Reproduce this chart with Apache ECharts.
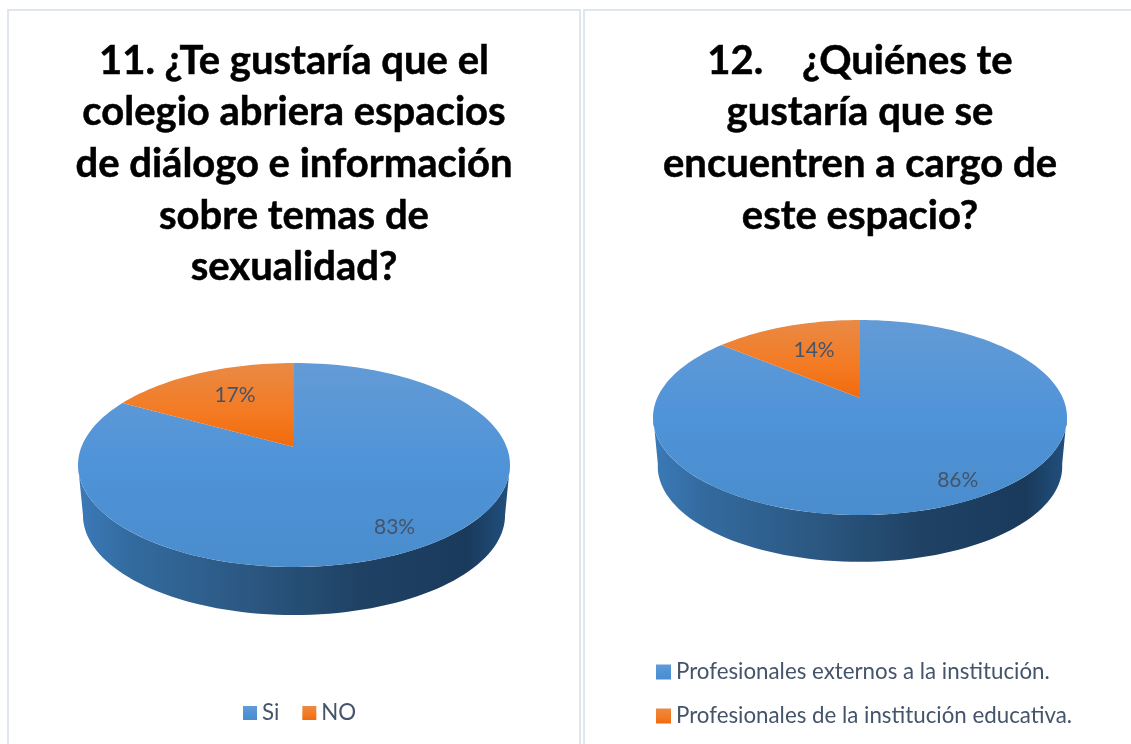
<!DOCTYPE html>
<html>
<head>
<meta charset="utf-8">
<style>
  html, body { margin: 0; padding: 0; background: #fff; }
  #chart { width: 1131px; height: 744px; }
</style>
<script src="https://cdn.jsdelivr.net/npm/echarts@6/dist/echarts.min.js"></script>
</head>
<body>
<div id="chart"></div>
<script>
const categories11 = ['Si', 'NO'];
const values11 = [83, 17];
const categories12 = ['Profesionales externos a la institución.', 'Profesionales de la institución educativa.'];
const values12 = [86, 14];
const title11 = '11. ¿Te gustaría que el\ncolegio abriera espacios\nde diálogo e información\nsobre temas de\nsexualidad?';
const title12 = '12.    ¿Quiénes te\ngustaría que se\nencuentren a cargo de\neste espacio?';

const FONT = 'Lato, "Open Sans", sans-serif';
const TEXT_COLOR = '#44546a';

// cy = centro real de la torta, above/below = distancia al borde de arriba/abajo
const layout11 = { cx: 294, cy: 447, halfW: 216, above: 84, below: 120, depth: 50.8, shrink: 0.977,
  labelR: [0.8, 0.65], labelShift: [[2, 3], [5, -1]] };
const layout12 = { cx: 860, cy: 398, halfW: 207, above: 78, below: 117, depth: 49.5, shrink: 0.977,
  labelR: [0.8, 0.66], labelShift: [[17, 3], [5, 2]] };

const grad = (x2, y2, stops) => new echarts.graphic.LinearGradient(0, 0, x2, y2,
  stops.map((c) => ({ offset: c[0], color: c[1] })));

const blueTop = () => grad(0, 1, [[0, '#639bd6'], [0.5, '#4f93d8'], [1, '#4a8dcd']]);
const orangeTop = () => grad(0, 1, [[0, '#e98a45'], [0.6, '#f47a22'], [1, '#f26a0c']]);
const blueWall = () => grad(1, 0, [[0, '#3b7ab8'], [0.12, '#336b9f'], [0.4, '#2b5781'], [0.65, '#1f4264'], [0.9, '#1a3a5c'], [1, '#22507e']]);
const orangeWall = () => grad(1, 0, [[0, '#b85a1c'], [1, '#7a3a10']]);

// perspectiva simple: circulo unitario -> elipse inclinada
const project = (lay, deg, r, scale, dy) => {
  const a = deg * Math.PI / 180;
  const u = Math.sin(a) * r;
  const v = -Math.cos(a) * r;
  const c = (lay.above - lay.below) / (lay.above + lay.below);
  const ay = lay.above * (1 - c);
  const kx = lay.halfW * Math.sqrt(1 - c * c);
  const den = 1 + c * v;
  return [lay.cx + scale * kx * u / den, lay.cy + scale * ay * v / den + dy];
};

const arc = (lay, from, to, scale, dy) => {
  const pts = [];
  const n = Math.max(2, Math.ceil((to - from) / 2));
  for (let i = 0; i <= n; i++) {
    pts.push(project(lay, from + (to - from) * i / n, 1, scale, dy));
  }
  return pts;
};

const makeSlices = (cats, vals, lay) => {
  const total = vals.reduce((a, b) => a + b, 0);
  let acc = 0;
  return cats.map((name, idx) => {
    const start = acc / total * 360;
    acc += vals[idx];
    const end = acc / total * 360;
    return {
      type: 'custom',
      name: name,
      coordinateSystem: 'none',
      silent: true,
      itemStyle: { color: idx === 0 ? blueTop() : orangeTop() },
      data: [vals[idx]],
      z: 2 + idx,
      renderItem: (params, api) => {
        const children = [];
        // pared lateral, solo la parte que da al frente
        const wallFrom = Math.max(start, 100);
        const wallTo = Math.min(end, 260);
        if (wallTo > wallFrom) {
          const pts = arc(lay, wallFrom, wallTo, 1, 0)
            .concat(arc(lay, wallFrom, wallTo, lay.shrink, lay.depth).reverse());
          children.push({
            type: 'polygon',
            shape: { points: pts },
            style: { fill: idx === 0 ? blueWall() : orangeWall() }
          });
        }
        children.push({
          type: 'polygon',
          shape: { points: [[lay.cx, lay.cy]].concat(arc(lay, start, end, 1, 0)) },
          style: { fill: idx === 0 ? blueTop() : orangeTop() }
        });
        const p = project(lay, (start + end) / 2, lay.labelR[idx], 1, 0);
        children.push({
          type: 'text',
          z2: 10,
          style: {
            x: p[0] + lay.labelShift[idx][0],
            y: p[1] + lay.labelShift[idx][1],
            text: api.value(0) + '%',
            fill: TEXT_COLOR,
            font: '21px ' + FONT,
            align: 'center',
            verticalAlign: 'middle'
          }
        });
        return { type: 'group', children: children };
      }
    };
  });
};

const legendData = (cats) => cats.map((name, i) => ({
  name: name,
  icon: 'rect',
  itemStyle: { color: i === 0 ? blueTop() : orangeTop() }
}));

const legendText = { color: TEXT_COLOR, fontFamily: FONT, fontSize: 22.3 };
const titleText = { fontFamily: FONT, fontSize: 40, fontWeight: 'bold', color: '#000', lineHeight: 51.6,
  textBorderColor: '#000', textBorderWidth: 0.5 };

const chart = echarts.init(document.getElementById('chart'));
chart.setOption({
  backgroundColor: '#fff',
  animation: false,
  title: [
    { text: title11, left: 294, top: 35, padding: 0, textAlign: 'center', textStyle: titleText },
    { text: title12, left: 860, top: 35, padding: 0, textAlign: 'center', textStyle: titleText }
  ],
  legend: [
    { data: legendData(categories11), orient: 'horizontal', left: 243, top: 702, padding: 0,
      itemWidth: 14, itemHeight: 14, itemGap: 23, textStyle: legendText, selectedMode: false },
    { data: legendData(categories12), orient: 'vertical', left: 656, top: 661, padding: 0,
      itemWidth: 15, itemHeight: 15, itemGap: 22, textStyle: legendText, selectedMode: false }
  ],
  graphic: [
    { type: 'rect', silent: true, z: -1, shape: { x: 8, y: 10, width: 572, height: 800 },
      style: { fill: '#fff', stroke: '#e0e6ee', lineWidth: 2 } },
    { type: 'rect', silent: true, z: -1, shape: { x: 584, y: 10, width: 600, height: 800 },
      style: { fill: '#fff', stroke: '#e0e6ee', lineWidth: 2 } }
  ],
  series: [
    ...makeSlices(categories11, values11, layout11),
    ...makeSlices(categories12, values12, layout12)
  ]
});
</script>
</body>
</html>
